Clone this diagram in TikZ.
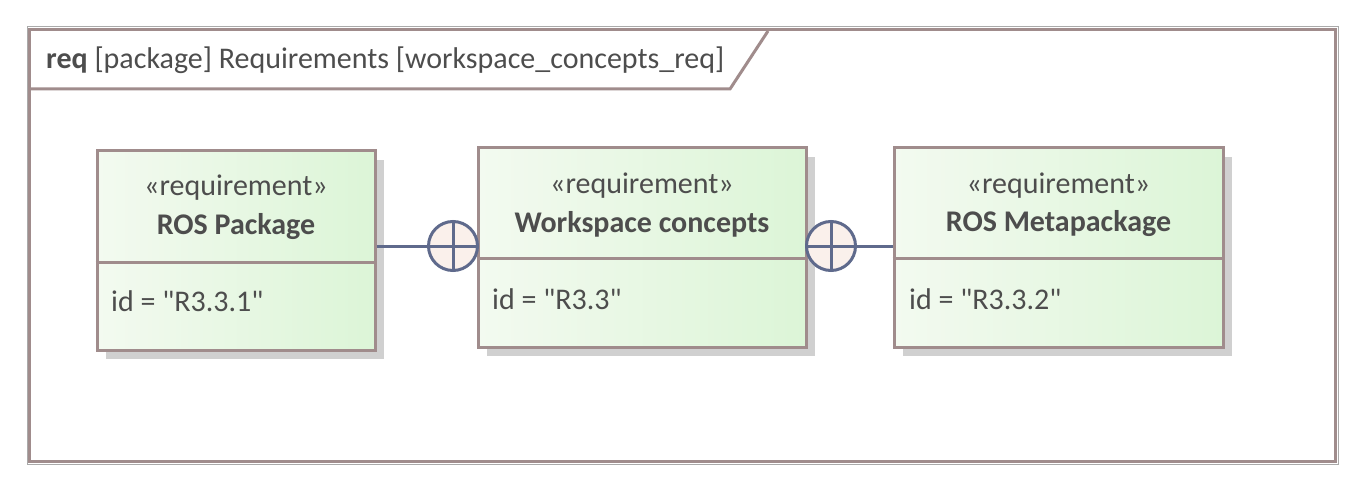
\documentclass[tikz,border=0pt]{standalone}
\usepackage{fontspec}
\setmainfont{Carlito}
\newfontfamily\plainfont{Carlito}
\usetikzlibrary{shadows,calc}
\definecolor{framec}{RGB}{160,140,140}
\definecolor{frameout}{RGB}{170,170,170}
\definecolor{txtc}{RGB}{77,77,77}
\definecolor{conc}{RGB}{95,106,140}
\definecolor{circfill}{RGB}{250,240,235}
\definecolor{gleft}{RGB}{243,250,240}
\definecolor{gright}{RGB}{220,245,215}
\definecolor{shadc}{RGB}{208,208,208}
\newcommand{\dq}{{\plainfont\symbol{34}}}
\tikzset{
  reqbox/.style={rectangle, draw=framec, line width=3pt, left color=gleft, right color=gright,
    inner sep=0pt, general shadow={fill=shadc, shadow xshift=9pt, shadow yshift=-9pt}},
  divline/.style={draw=framec, line width=3pt},
  txt/.style={text=txtc, inner sep=0pt, font=\fontsize{30}{36}\selectfont},
  stereo/.style={txt},
  rname/.style={txt, font=\fontsize{30}{36}\selectfont\bfseries},
  attr/.style={txt, anchor=west},
  contain/.style={circle, draw=conc, fill=circfill, line width=3pt, minimum size=49pt, inner sep=0pt},
  conn/.style={draw=conc, line width=3pt}
}
\begin{document}
\begin{tikzpicture}[x=1pt,y=-1pt]
\useasboundingbox (0,0) rectangle (1365,492);
\fill[white] (0,0) rectangle (1365,492);
% frame
\draw[frameout, line width=1pt] (27,27) rectangle (1338,464);
\draw[framec, line width=3.5pt] (29.5,29.5) rectangle (1335.5,461.5);
\draw[framec, line width=3pt] (29.5,89) -- (730,89) -- (768,31);
\node[txt, anchor=west] (title) at (46,60) {\textbf{req} [package] Requirements [workspace\_concepts\_req]};
% boxes
\node[reqbox, minimum width=278pt, minimum height=199pt] (b1) at (236,250.5) {};
\node[reqbox, minimum width=328pt, minimum height=199pt] (b2) at (642,247.5) {};
\node[reqbox, minimum width=329pt, minimum height=199pt] (b3) at (1058.5,247.5) {};
\draw[divline] (b1.west |- 0,262) -- (b1.east |- 0,262);
\draw[divline] (b2.west |- 0,258) -- (b2.east |- 0,258);
\draw[divline] (b3.west |- 0,258) -- (b3.east |- 0,258);
\node[stereo] (s1) at (236,188) {«requirement»};
\node[rname] (n1) at (236,227) {ROS Package};
\node[attr] (a1) at (111,301) {id = \dq R3.3.1\dq};
\node[stereo] (s2) at (642,186) {«requirement»};
\node[rname] (n2) at (642,224) {Workspace concepts};
\node[attr] (a2) at (492,299) {id = \dq R3.3\dq};
\node[stereo] (s3) at (1058.5,186) {«requirement»};
\node[rname] (n3) at (1058.5,224) {ROS Metapackage};
\node[attr] (a3) at (909,299) {id = \dq R3.3.2\dq};
% containment
\node[contain] (c1) at (453,246) {};
\node[contain] (c2) at (831,246) {};
\draw[conn] (b1.east |- c1.center) -- (c1.west);
\draw[conn] (c2.east) -- (b3.west |- c2.center);
\draw[conn] (c1.north) -- (c1.south) (c1.west) -- (c1.east);
\draw[conn] (c2.north) -- (c2.south) (c2.west) -- (c2.east);
\end{tikzpicture}
\end{document}
